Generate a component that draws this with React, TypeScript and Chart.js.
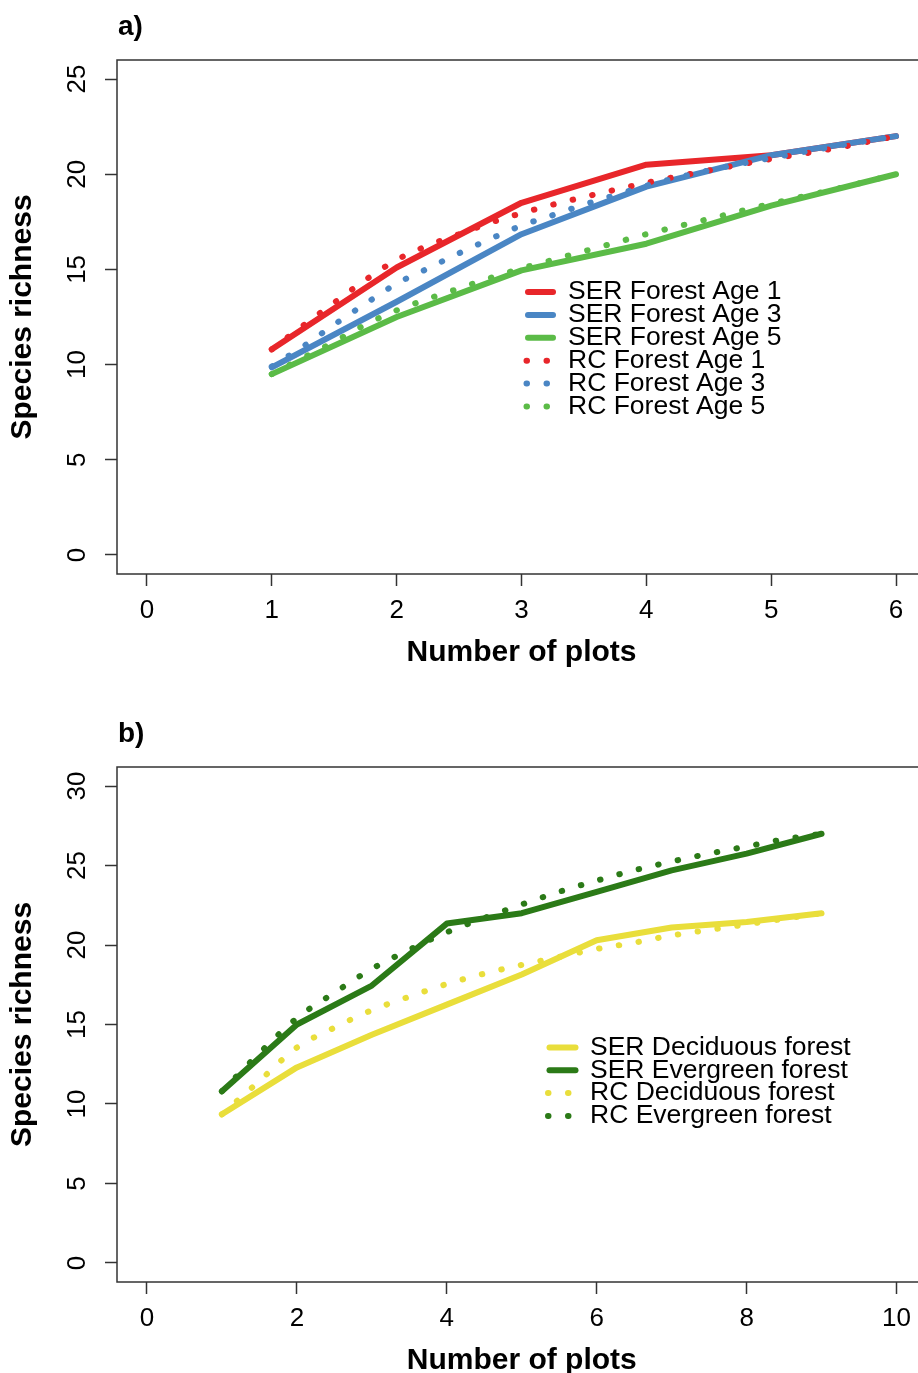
import React, { useEffect, useRef } from "react";
import { Chart, registerables } from "chart.js";

Chart.register(...registerables);

const FONT = "'Liberation Sans', Arial, Helvetica, sans-serif";
Chart.defaults.font.family = FONT;

// ---------- Panel a data ----------
const PLOTS_A = [1, 2, 3, 4, 5, 6];
const SER_AGE1 = [10.8, 15.1, 18.5, 20.5, 21.0, 22.0];
const SER_AGE3 = [9.85, 13.3, 16.85, 19.35, 21.0, 22.0];
const SER_AGE5 = [9.5, 12.5, 14.95, 16.35, 18.35, 20.0];
const RC_X_A = [1, 1.25, 1.5, 1.75, 2, 2.25, 2.5, 2.75, 3, 3.25, 3.5, 3.75, 4, 4.5, 5, 5.5, 6];
const RC_AGE1 = [10.8, 12.05, 13.25, 14.45, 15.5, 16.25, 16.85, 17.45, 17.95, 18.4, 18.8, 19.18, 19.55, 20.2, 20.8, 21.35, 22.0];
const RC_AGE3 = [9.9, 10.95, 12.1, 13.2, 14.25, 15.05, 15.85, 16.6, 17.3, 17.85, 18.4, 18.9, 19.4, 20.2, 20.85, 21.45, 22.0];
const RC_AGE5 = [9.5, 10.35, 11.2, 12.1, 12.85, 13.45, 14.0, 14.55, 15.05, 15.5, 15.95, 16.4, 16.85, 17.65, 18.45, 19.2, 20.0];
const X_TICKS_A = [0, 1, 2, 3, 4, 5, 6];
const Y_TICKS_A = [0, 5, 10, 15, 20, 25];
const LABELS_A = [
  "SER Forest Age 1",
  "SER Forest Age 3",
  "SER Forest Age 5",
  "RC Forest Age 1",
  "RC Forest Age 3",
  "RC Forest Age 5",
];

// ---------- Panel b data ----------
const PLOTS_B = [1, 2, 3, 4, 5, 6, 7, 8, 9];
const SER_DEC = [9.35, 12.3, 14.35, 16.25, 18.15, 20.3, 21.1, 21.45, 22.0];
const SER_EVER = [10.8, 15.0, 17.45, 21.35, 22.0, 23.35, 24.7, 25.75, 27.0];
const RC_X_B = [1, 1.5, 2, 2.5, 3, 3.5, 4, 4.5, 5, 5.5, 6, 6.5, 7, 7.5, 8, 8.5, 9];
const RC_DEC = [9.35, 11.45, 13.55, 14.8, 15.9, 16.75, 17.55, 18.2, 18.75, 19.25, 19.75, 20.15, 20.6, 20.95, 21.3, 21.65, 22.0];
const RC_EVER = [10.8, 13.2, 15.4, 17.0, 18.5, 19.7, 20.8, 21.7, 22.55, 23.35, 24.05, 24.7, 25.25, 25.75, 26.2, 26.65, 27.0];
const X_TICKS_B = [0, 2, 4, 6, 8, 10];
const Y_TICKS_B = [0, 5, 10, 15, 20, 25, 30];
const LABELS_B = [
  "SER Deciduous forest",
  "SER Evergreen forest",
  "RC Deciduous forest",
  "RC Evergreen forest",
];

const RED = "#E8262A";
const BLUE = "#4A86C4";
const GREEN = "#5BBB47";
const YELLOW = "#E9DE3B";
const DKGREEN = "#2B7A17";
const AXIS = "#333333";
const LINE_W = 6;
const DOTS = [0.5, 19.5];

const zip = (xs: number[], ys: number[]) => xs.map((x, i) => ({ x, y: ys[i] }));

function solid(label: string, xs: number[], ys: number[], color: string, order: number) {
  return {
    label,
    data: zip(xs, ys),
    borderColor: color,
    backgroundColor: color,
    borderWidth: LINE_W,
    borderCapStyle: "round",
    borderJoinStyle: "round",
    pointRadius: 0,
    tension: 0,
    fill: false,
    order,
  };
}

function dotted(label: string, xs: number[], ys: number[], color: string, order: number) {
  return {
    label,
    data: zip(xs, ys),
    borderColor: color,
    backgroundColor: color,
    borderWidth: LINE_W,
    borderCapStyle: "round",
    borderJoinStyle: "round",
    borderDash: DOTS,
    cubicInterpolationMode: "monotone",
    pointRadius: 0,
    fill: false,
    order,
  };
}

const decorPlugin = {
  id: "rDecor",
  afterDraw(chart: any, _args: any, opts: any) {
    const { ctx, chartArea: ca } = chart;
    ctx.save();
    // box
    ctx.strokeStyle = AXIS;
    ctx.lineWidth = 1.5;
    ctx.setLineDash([]);
    ctx.strokeRect(ca.left, ca.top, ca.right - ca.left, ca.bottom - ca.top);
    // rotated y tick labels
    const ys = chart.scales.y;
    ctx.fillStyle = "#000";
    ctx.font = `26px ${FONT}`;
    ctx.textAlign = "center";
    ctx.textBaseline = "middle";
    ys.ticks.forEach((t: any) => {
      const p = ys.getPixelForValue(t.value);
      ctx.save();
      ctx.translate(opts.yLabelX, p);
      ctx.rotate(-Math.PI / 2);
      ctx.fillText(String(t.value), 0, 0);
      ctx.restore();
    });
    // panel letter
    ctx.font = `bold 28px ${FONT}`;
    ctx.textAlign = "left";
    ctx.textBaseline = "alphabetic";
    ctx.fillText(opts.letter, opts.letterX, opts.letterY);
    // legend
    chart.data.datasets.forEach((ds: any, i: number) => {
      const y = opts.legendY + i * opts.legendStep;
      ctx.save();
      ctx.strokeStyle = ds.borderColor;
      ctx.lineWidth = ds.borderWidth;
      ctx.lineCap = "round";
      ctx.beginPath();
      if (ds.borderDash) {
        ctx.setLineDash(ds.borderDash);
        ctx.moveTo(opts.legendX0 + 1.5, y);
        ctx.lineTo(opts.legendX1, y);
      } else {
        ctx.setLineDash([]);
        ctx.moveTo(opts.legendX0 + LINE_W / 2, y);
        ctx.lineTo(opts.legendX1 - LINE_W / 2, y);
      }
      ctx.stroke();
      ctx.restore();
      ctx.fillStyle = "#000";
      ctx.font = `26.5px ${FONT}`;
      ctx.textAlign = "left";
      ctx.textBaseline = "middle";
      ctx.fillText(ds.label, opts.legendTextX, y);
    });
    ctx.restore();
  },
};

type Panel = {
  width: number;
  height: number;
  areaTop: number;
  areaRight: number;
  xMin: number;
  xMax: number;
  yMin: number;
  yMax: number;
  xTicks: number[];
  yTicks: number[];
  datasets: any[];
  decor: any;
};

function buildConfig(p: Panel): any {
  return {
    type: "line",
    data: { datasets: p.datasets },
    plugins: [decorPlugin],
    options: {
      animation: false,
      responsive: false,
      maintainAspectRatio: false,
      events: [],
      layout: { padding: { top: p.areaTop, right: p.width - p.areaRight, left: 0, bottom: 0 } },
      plugins: {
        legend: { display: false },
        tooltip: { enabled: false },
        rDecor: p.decor,
      },
      scales: {
        x: {
          type: "linear",
          min: p.xMin,
          max: p.xMax,
          afterBuildTicks: (s: any) => {
            s.ticks = p.xTicks.map((v) => ({ value: v }));
          },
          afterFit: (s: any) => {
            s.height = 116;
          },
          grid: {
            drawOnChartArea: false,
            drawTicks: true,
            tickLength: 12,
            tickColor: AXIS,
            tickWidth: 1.5,
          },
          border: { display: false },
          ticks: {
            autoSkip: false,
            maxRotation: 0,
            minRotation: 0,
            padding: 9,
            color: "#000",
            font: { size: 26, family: FONT },
            callback: (v: any) => String(v),
          },
          title: {
            display: true,
            text: "Number of plots",
            color: "#000",
            font: { size: 30, weight: "bold", family: FONT },
            padding: { top: 0, bottom: 19 },
          },
        },
        y: {
          type: "linear",
          min: p.yMin,
          max: p.yMax,
          afterBuildTicks: (s: any) => {
            s.ticks = p.yTicks.map((v) => ({ value: v }));
          },
          afterFit: (s: any) => {
            s.width = 117;
          },
          grid: {
            drawOnChartArea: false,
            drawTicks: true,
            tickLength: 12,
            tickColor: AXIS,
            tickWidth: 1.5,
          },
          border: { display: false },
          ticks: { display: false },
          title: {
            display: true,
            text: "Species richness",
            color: "#000",
            font: { size: 30, weight: "bold", family: FONT },
            padding: { top: 5, bottom: 0 },
          },
        },
      },
    },
  };
}

function ChartCanvas({ panel }: { panel: Panel }) {
  const ref = useRef<HTMLCanvasElement | null>(null);
  useEffect(() => {
    if (!ref.current) return;
    const chart = new Chart(ref.current, buildConfig(panel));
    return () => chart.destroy();
  }, [panel]);
  return (
    <canvas
      ref={ref}
      width={panel.width}
      height={panel.height}
      style={{ display: "block", width: panel.width, height: panel.height }}
    />
  );
}

const PANEL_A: Panel = {
  width: 940,
  height: 690,
  areaTop: 60,
  areaRight: 926,
  xMin: -0.24,
  xMax: 6.24,
  yMin: -1,
  yMax: 26,
  xTicks: X_TICKS_A,
  yTicks: Y_TICKS_A,
  datasets: [
    solid(LABELS_A[0], PLOTS_A, SER_AGE1, RED, 6),
    solid(LABELS_A[1], PLOTS_A, SER_AGE3, BLUE, 5),
    solid(LABELS_A[2], PLOTS_A, SER_AGE5, GREEN, 4),
    dotted(LABELS_A[3], RC_X_A, RC_AGE1, RED, 3),
    dotted(LABELS_A[4], RC_X_A, RC_AGE3, BLUE, 2),
    dotted(LABELS_A[5], RC_X_A, RC_AGE5, GREEN, 1),
  ],
  decor: {
    yLabelX: 78,
    letter: "a)",
    letterX: 118,
    letterY: 35,
    legendX0: 525,
    legendX1: 556,
    legendTextX: 568,
    legendY: 292,
    legendStep: 22.9,
  },
};

const PANEL_B: Panel = {
  width: 940,
  height: 708,
  areaTop: 77,
  areaRight: 926.5,
  xMin: -0.4,
  xMax: 10.4,
  yMin: -1.2,
  yMax: 31.2,
  xTicks: X_TICKS_B,
  yTicks: Y_TICKS_B,
  datasets: [
    solid(LABELS_B[0], PLOTS_B, SER_DEC, YELLOW, 4),
    solid(LABELS_B[1], PLOTS_B, SER_EVER, DKGREEN, 3),
    dotted(LABELS_B[2], RC_X_B, RC_DEC, YELLOW, 2),
    dotted(LABELS_B[3], RC_X_B, RC_EVER, DKGREEN, 1),
  ],
  decor: {
    yLabelX: 78,
    letter: "b)",
    letterX: 118,
    letterY: 52,
    legendX0: 546.5,
    legendX1: 578.5,
    legendTextX: 590,
    legendY: 357.5,
    legendStep: 22.8,
  },
};

export default function App() {
  return (
    <div
      style={{
        position: "fixed",
        left: 0,
        top: 0,
        width: 918,
        height: 1373,
        overflow: "hidden",
        background: "#fff",
      }}
    >
      <div style={{ position: "absolute", left: 0, top: 0 }}>
        <ChartCanvas panel={PANEL_A} />
      </div>
      <div style={{ position: "absolute", left: 0, top: 690 }}>
        <ChartCanvas panel={PANEL_B} />
      </div>
    </div>
  );
}
